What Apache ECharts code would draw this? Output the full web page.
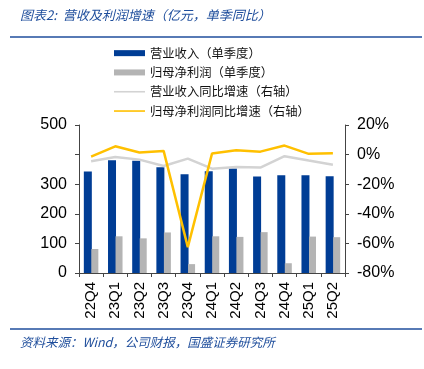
<!DOCTYPE html>
<html><head><meta charset="utf-8">
<script src="https://cdn.jsdelivr.net/npm/echarts@6/dist/echarts.min.js"></script>
<style>html,body{margin:0;padding:0;background:#fff}#c{width:424px;height:369px}</style>
</head><body><div id="c"></div>
<script>
const categories = ['22Q4','23Q1','23Q2','23Q3','23Q4','24Q1','24Q2','24Q3','24Q4','25Q1','25Q2'];
const revenue = [343, 381, 379, 357, 334, 344, 353, 326, 330, 330, 327];
const profit = [81, 124, 117, 137, 30, 124, 122, 138, 33, 123, 121];
const revenueYoY = [-4.5, -1.6, -3.4, -7.7, -2.7, -9.5, -8.4, -8.8, -1.1, -4.0, -6.8];
const profitYoY = [-1.4, 5.6, 1.4, 2.5, -62.5, 0.7, 2.9, 2.0, 6.1, 0.5, 0.9];
const leftTicksHidden = [400];
const names = ['营业收入（单季度）','归母净利润（单季度）','营业收入同比增速（右轴）','归母净利润同比增速（右轴）'];
const titleText = '图表2:  营收及利润增速（亿元，单季同比）';
const sourceText = '资料来源：Wind，公司财报，国盛证券研究所';

const chart = echarts.init(document.getElementById('c'), null, {renderer:'canvas'});
const blue = '#1f4e9c';
const thinIcon = 'path://M0,0 M31,6 M0,2.2 L31,2.2 L31,3.8 L0,3.8 Z';
chart.setOption({
  animation: false,
  grid: {left: 79, right: 79, top: 125, bottom: 96},
  legend: {
    orient: 'vertical', left: 109, top: 42, itemWidth: 31, itemHeight: 6, itemGap: 7,
    textStyle: {fontFamily: 'Noto Sans CJK SC', fontSize: 12.3, color: '#111'},
    data: [
      {name: names[0], icon: 'rect'},
      {name: names[1], icon: 'rect'},
      {name: names[2], icon: thinIcon},
      {name: names[3], icon: thinIcon}
    ]
  },
  xAxis: {
    type: 'category', data: categories,
    axisLine: {lineStyle: {color: '#444', width: 1}},
    axisTick: {show: true, alignWithLabel: false, length: 4, lineStyle: {color: '#444'}},
    axisLabel: {rotate: 90, fontFamily: 'Liberation Sans', fontSize: 15, color: '#000', margin: 9}
  },
  yAxis: [{
    type: 'value', min: 0, max: 500, interval: 100,
    axisLine: {show: true, lineStyle: {color: '#444'}},
    axisTick: {show: true, length: 4, lineStyle: {color: '#444'}},
    splitLine: {show: false},
    axisLabel: {fontFamily: 'Liberation Sans', fontSize: 16, color: '#000', margin: 12,
      formatter: v => leftTicksHidden.includes(v) ? '' : String(v)}
  }, {
    type: 'value', min: -80, max: 20, interval: 20,
    axisLine: {show: true, lineStyle: {color: '#444'}},
    axisTick: {show: true, length: 4, lineStyle: {color: '#444'}},
    splitLine: {show: false},
    axisLabel: {fontFamily: 'Liberation Sans', fontSize: 16, color: '#000', margin: 12,
      formatter: v => Math.round(v) + '%'}
  }],
  series: [
    {name: names[0], type: 'bar', data: revenue, barWidth: 8, barGap: '-6%', itemStyle: {color: '#003d95'}},
    {name: names[1], type: 'bar', data: profit, barWidth: 7, itemStyle: {color: '#b4b4b4'}},
    {name: names[2], type: 'line', yAxisIndex: 1, data: revenueYoY, symbol: 'none', lineStyle: {color: '#d3d3d3', width: 2.5}, itemStyle: {color: '#d3d3d3'}},
    {name: names[3], type: 'line', yAxisIndex: 1, data: profitYoY, symbol: 'none', lineStyle: {color: '#ffc000', width: 2.5}, itemStyle: {color: '#ffc000'}}
  ],
  graphic: [
    {type: 'text', left: 20, top: 9, style: {text: titleText, fill: blue, font: 'italic 13px "Noto Sans CJK SC"'}},
    {type: 'line', shape: {x1: 10, y1: 37, x2: 422, y2: 37}, style: {stroke: blue, lineWidth: 1.5}},
    {type: 'line', shape: {x1: 10, y1: 329, x2: 422, y2: 329}, style: {stroke: blue, lineWidth: 1.5}},
    {type: 'text', left: 20, top: 336, style: {text: sourceText, fill: blue, font: 'italic 12.5px "Noto Sans CJK SC"'}}
  ]
});
</script></body></html>
